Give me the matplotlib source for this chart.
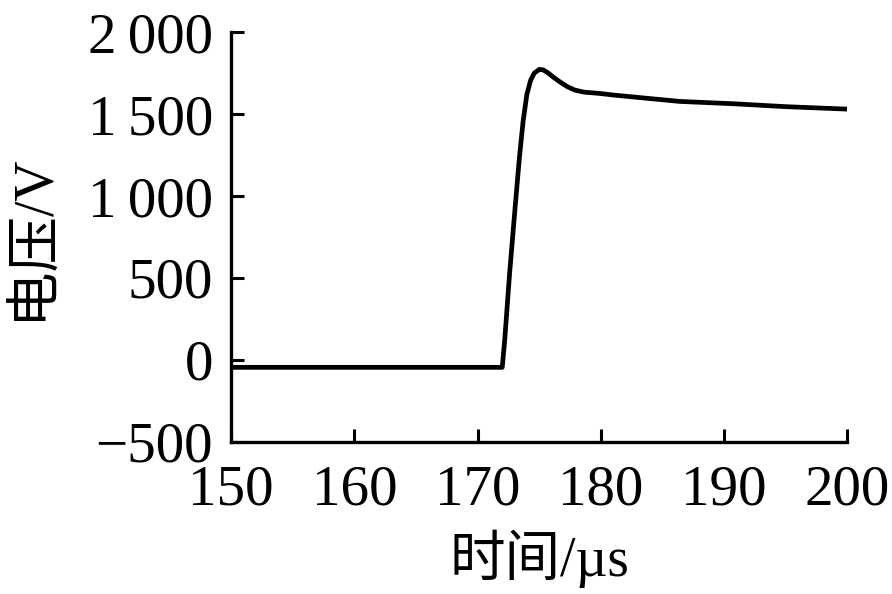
import numpy as np
import matplotlib
matplotlib.use('Agg')
import matplotlib.pyplot as plt

# curve (time in us, voltage in V)
t = [150, 172.0, 172.2, 172.6, 173.05, 173.4, 173.7, 174.0, 174.3, 174.6,
     175.0, 175.3, 175.7, 176.2, 176.7, 177.3, 177.9, 178.6, 180.0, 181.0,
     186.4, 190.7, 195.0, 200.0]
v = [-45, -45, 120, 530, 935, 1240, 1460, 1620, 1705, 1750,
     1772, 1770, 1752, 1722, 1695, 1666, 1646, 1634, 1625, 1616,
     1577, 1563, 1545, 1530]

xticks = [150, 160, 170, 180, 190, 200]
yticks = [-500, 0, 500, 1000, 1500, 2000]
ytick_labels = ['\u2212500', '0', '500', '1\u2009000', '1\u2009500', '2\u2009000']

serif = ['Liberation Serif', 'Noto Sans CJK SC']
plt.rcParams['font.family'] = serif

fig = plt.figure(figsize=(8.92, 5.94), dpi=100)
ax = fig.add_axes([0.259, 0.256, 0.691, 0.690])

ax.plot(t, v, color='black', lw=3.4, solid_joinstyle='round', solid_capstyle='butt')

ax.set_xlim(150, 200)
ax.set_ylim(-500, 2000)
ax.set_xticks(xticks)
ax.set_xticklabels([str(x) for x in xticks])
ax.set_yticks(yticks)
ax.set_yticklabels(ytick_labels)

for s in ['top', 'right']:
    ax.spines[s].set_visible(False)
for s in ['left', 'bottom']:
    ax.spines[s].set_linewidth(2.4)

ax.tick_params(direction='in', length=9.5, width=2.2, labelsize=41)
ax.tick_params(axis='x', pad=16)
ax.tick_params(axis='y', pad=13)

ax.set_xlabel('时间/µs', fontsize=40, labelpad=10)
ax.set_ylabel('电压/V', fontsize=40, labelpad=20)

fig.savefig('out.png', dpi=100)
